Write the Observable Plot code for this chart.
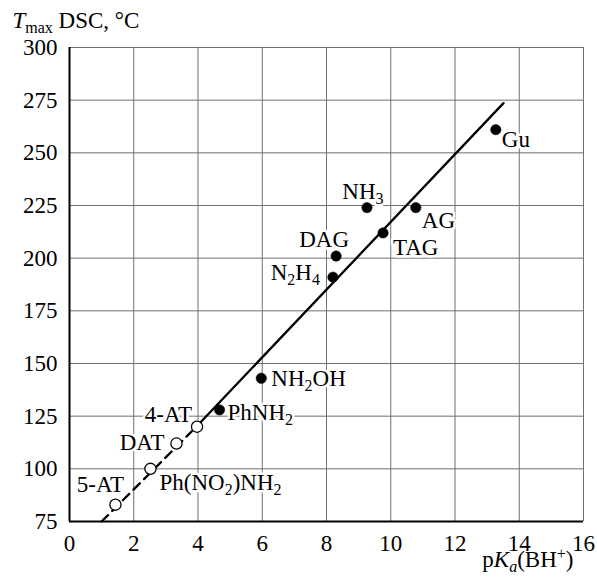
<!DOCTYPE html>
<html>
<head>
<meta charset="utf-8">
<script src="https://cdn.jsdelivr.net/npm/d3@7"></script>
<script src="https://cdn.jsdelivr.net/npm/@observablehq/plot@0.6"></script>
<style>
  html, body { margin: 0; padding: 0; background: #fff; }
</style>
</head>
<body>
<div id="chart"></div>
<script>
// ---- data ----
const names = ["Gu", "NH_{3}", "AG", "TAG", "DAG", "N_{2}H_{4}", "NH_{2}OH", "PhNH_{2}", "4-AT", "DAT", "Ph(NO_{2})NH_{2}", "5-AT"];
const pKa   = [13.27, 9.26, 10.78, 9.76, 8.30, 8.20, 5.97, 4.67, 3.97, 3.33, 2.52, 1.43];
const tmax  = [261, 224, 224, 212, 201, 191, 143, 128, 120, 112, 100, 83];
const openMarker = [false, false, false, false, false, false, false, false, true, true, true, true];

const fitSolidX = [3.97, 13.51];
const fitSolidY = [120.3, 273.6];
const fitDashX  = [1.0, 3.97];
const fitDashY  = [75, 120.3];

const xTicks = [0, 2, 4, 6, 8, 10, 12, 14, 16];
const yTicks = [75, 100, 125, 150, 175, 200, 225, 250, 275, 300];

const yTitle = "*T*_{max} DSC, °C";
const xTitle = "p*K*_{*a*}(BH^{+})";

// label placement (style): [dx, dy, textAnchor]
const labelPlace = [
  [6, 10, "start"],
  [-4, -16, "middle"],
  [6, 13, "start"],
  [10, 15, "start"],
  [-12, -16, "middle"],
  [-13, -5, "end"],
  [10, 0, "start"],
  [8, 3, "start"],
  [-5, -12, "end"],
  [-12, -1, "end"],
  [9, 14, "start"],
  [-15, -20, "middle"]
];

const FS = 23;
const pts = names.map((n, i) => ({name: n, x: pKa[i], y: tmax[i], open: openMarker[i]}));
const solid = fitSolidX.map((x, i) => ({x, y: fitSolidY[i]}));
const dash = fitDashX.map((x, i) => ({x, y: fitDashY[i]}));

const labelMarks = pts.map((p, i) => Plot.text([p], {
  x: "x", y: "y", text: "name",
  dx: labelPlace[i][0], dy: labelPlace[i][1], textAnchor: labelPlace[i][2], lineAnchor: "middle",
  fill: "black", stroke: "white", strokeWidth: 5, fontSize: FS
}));

const chart = Plot.plot({
  width: 597,
  height: 577,
  marginLeft: 69,
  marginRight: 14,
  marginTop: 47,
  marginBottom: 56,
  style: {fontFamily: "'Liberation Serif', serif", fontSize: FS + "px", color: "black", background: "white"},
  x: {domain: [0, 16]},
  y: {domain: [75, 300]},
  marks: [
    Plot.gridX(xTicks, {stroke: "#6f6f6f", strokeOpacity: 1, strokeWidth: 1}),
    Plot.gridY(yTicks, {stroke: "#6f6f6f", strokeOpacity: 1, strokeWidth: 1}),
    Plot.axisX(xTicks, {tickSize: 0, tickPadding: 13, label: null, fontSize: FS}),
    Plot.axisY(yTicks, {tickSize: 0, tickPadding: 12, label: null, fontSize: FS}),
    Plot.ruleX([0], {stroke: "black", strokeWidth: 2}),
    Plot.ruleY([75], {stroke: "black", strokeWidth: 2}),
    Plot.line(dash, {x: "x", y: "y", stroke: "black", strokeWidth: 2.3, strokeDasharray: "9,6"}),
    Plot.line(solid, {x: "x", y: "y", stroke: "black", strokeWidth: 2.3}),
    Plot.dot(pts.filter(d => !d.open), {x: "x", y: "y", r: 5.2, fill: "black", stroke: "black", strokeWidth: 0.5}),
    Plot.dot(pts.filter(d => d.open), {x: "x", y: "y", r: 5.6, fill: "white", stroke: "black", strokeWidth: 1.3}),
    ...labelMarks,
    Plot.text([yTitle], {frameAnchor: "top-left", dx: -57, dy: -27, textAnchor: "start", lineAnchor: "middle", fill: "black", fontSize: FS}),
    Plot.text([xTitle], {frameAnchor: "bottom-right", dx: -10, dy: 38, textAnchor: "end", lineAnchor: "middle", fill: "black", fontSize: FS})
  ]
});

document.getElementById("chart").appendChild(chart);

// force font on every text
chart.querySelectorAll("text").forEach(el => {
  el.style.fontFamily = "'Liberation Serif', serif";
  el.style.fontSize = FS + "px";
});

// ---- rich text: *italic*, _{sub}, ^{sup} ----
function parseRich(s) {
  const segs = [];
  const re = /_\{([^}]*)\}|\^\{([^}]*)\}|\*([^*]*)\*|([^_^*]+)/g;
  let m;
  const inner = (t, sh) => {
    const it = /^\*.*\*$/.test(t);
    segs.push({t: it ? t.slice(1, -1) : t, it, sh});
  };
  while ((m = re.exec(s))) {
    if (m[1] != null) inner(m[1], "sub");
    else if (m[2] != null) inner(m[2], "sup");
    else if (m[3] != null) segs.push({t: m[3], it: true, sh: null});
    else segs.push({t: m[4], it: false, sh: null});
  }
  return segs;
}
const NS = "http://www.w3.org/2000/svg";
chart.querySelectorAll("text").forEach(el => {
  const s = el.textContent;
  if (!/[_^*]/.test(s)) return;
  const segs = parseRich(s);
  while (el.firstChild) el.removeChild(el.firstChild);
  let cur = 0;
  segs.forEach(sg => {
    const ts = document.createElementNS(NS, "tspan");
    const target = sg.sh === "sub" ? 5 : sg.sh === "sup" ? -8 : 0;
    if (target !== cur) ts.setAttribute("dy", (target - cur) + "px");
    cur = target;
    if (sg.sh) ts.style.fontSize = "16px";
    if (sg.it) ts.style.fontStyle = "italic";
    ts.textContent = sg.t;
    el.appendChild(ts);
  });
});
</script>
</body>
</html>
